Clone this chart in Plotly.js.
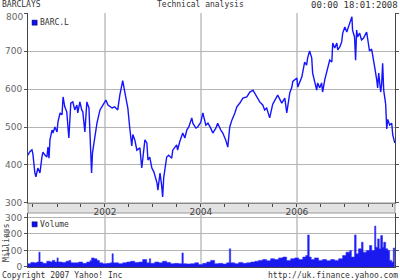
<!DOCTYPE html>
<html><head><meta charset="utf-8">
<script src="https://cdn.plot.ly/plotly-3.0.1.min.js"></script>
<style>html,body{margin:0;padding:0;background:#fff;}#c{width:400px;height:280px;}</style>
</head><body><div id="c"></div>
<script>
var priceDates = ["2000-05-24","2000-06-08","2000-06-24","2000-07-01","2000-07-16","2000-07-24","2000-08-08","2000-08-24","2000-09-08","2000-09-16","2000-10-01","2000-10-16","2000-10-24","2000-11-01","2000-11-08","2000-11-24","2000-12-01","2000-12-16","2001-01-01","2001-01-08","2001-01-24","2001-02-08","2001-02-16","2001-03-01","2001-03-16","2001-03-24","2001-04-01","2001-04-16","2001-05-01","2001-05-16","2001-06-01","2001-06-08","2001-06-24","2001-07-08","2001-07-16","2001-08-01","2001-08-16","2001-09-01","2001-09-14","2001-09-21","2001-09-28","2001-11-01","2001-11-24","2001-12-16","2002-01-08","2002-01-24","2002-02-24","2002-03-16","2002-04-08","2002-04-24","2002-05-16","2002-06-01","2002-06-24","2002-07-08","2002-07-24","2002-08-01","2002-08-16","2002-09-01","2002-09-24","2002-10-08","2002-10-16","2002-11-01","2002-11-16","2002-11-24","2002-12-08","2002-12-24","2003-01-08","2003-02-01","2003-02-08","2003-02-24","2003-03-08","2003-03-16","2003-03-24","2003-04-08","2003-04-16","2003-05-01","2003-05-24","2003-06-01","2003-07-01","2003-07-08","2003-07-24","2003-08-16","2003-09-01","2003-09-16","2003-10-01","2003-10-24","2003-11-01","2003-11-24","2003-12-08","2004-01-01","2004-01-16","2004-02-08","2004-02-24","2004-03-16","2004-04-01","2004-04-24","2004-05-08","2004-06-01","2004-06-16","2004-07-08","2004-07-24","2004-08-08","2004-08-24","2004-09-16","2004-10-01","2004-10-24","2004-11-16","2004-12-16","2005-01-08","2005-02-01","2005-03-01","2005-03-24","2005-04-16","2005-05-01","2005-05-16","2005-06-08","2005-07-01","2005-08-01","2005-08-08","2005-09-08","2005-10-01","2005-10-16","2005-11-08","2005-11-24","2005-12-01","2006-01-01","2006-01-08","2006-02-08","2006-02-16","2006-03-01","2006-03-16","2006-03-24","2006-04-08","2006-04-24","2006-05-01","2006-05-16","2006-06-01","2006-06-08","2006-06-24","2006-07-08","2006-07-16","2006-08-01","2006-08-16","2006-08-24","2006-09-08","2006-09-24","2006-10-01","2006-10-16","2006-11-01","2006-11-08","2006-11-24","2006-12-08","2006-12-16","2007-01-01","2007-01-16","2007-02-08","2007-02-24","2007-03-01","2007-03-16","2007-03-24","2007-04-01","2007-04-08","2007-04-24","2007-05-08","2007-05-24","2007-06-16","2007-06-24","2007-07-08","2007-07-24","2007-08-01","2007-08-16","2007-09-01","2007-09-08","2007-09-16","2007-10-01","2007-10-08","2007-10-16","2007-10-24","2007-11-01","2007-11-08","2007-11-16","2007-11-24","2007-12-08","2007-12-24","2008-01-01","2008-01-16"];
var priceValues = [426,435,440,430,380,369,392,379,421,434,426,421,447,418,466,492,484,500,487,513,537,532,579,553,540,500,471,563,566,545,558,537,566,545,540,487,566,550,447,379,432,510,545,558,571,558,550,553,545,584,622,592,550,500,450,480,466,439,445,392,421,466,458,413,421,392,382,353,334,379,347,316,366,395,421,426,418,439,453,439,461,484,471,492,500,524,510,497,500,513,537,505,510,497,484,497,510,492,484,466,447,500,518,537,553,563,576,579,592,597,579,566,558,545,550,524,560,580,584,563,576,537,590,605,620,629,605,632,650,671,663,682,700,682,642,616,597,616,603,616,592,624,642,658,676,671,721,708,721,703,711,724,747,763,750,774,790,755,737,676,755,737,747,729,734,750,729,700,705,684,658,624,603,642,592,611,668,597,575,560,495,520,505,510,479,458];

var volDates = ["2000-05-24","2000-06-15","2000-07-10","2000-08-01","2000-08-16","2000-08-25","2000-09-15","2000-10-15","2000-11-10","2000-11-25","2000-12-15","2001-01-01","2001-01-10","2001-02-10","2001-03-10","2001-04-01","2001-04-16","2001-05-15","2001-06-15","2001-07-15","2001-08-15","2001-09-10","2001-09-21","2001-10-10","2001-11-01","2001-11-20","2001-12-15","2002-01-15","2002-02-10","2002-02-24","2002-03-05","2002-04-15","2002-05-15","2002-06-15","2002-07-15","2002-08-15","2002-09-15","2002-10-15","2002-11-15","2002-12-05","2002-12-15","2003-01-15","2003-02-15","2003-03-15","2003-04-15","2003-05-15","2003-06-15","2003-07-15","2003-08-10","2003-08-20","2003-09-15","2003-10-15","2003-11-15","2003-12-15","2004-01-15","2004-02-15","2004-03-15","2004-04-15","2004-05-15","2004-06-15","2004-07-15","2004-08-05","2004-08-15","2004-09-15","2004-10-15","2004-11-15","2004-12-15","2005-01-15","2005-02-15","2005-03-15","2005-04-15","2005-05-15","2005-06-15","2005-07-15","2005-08-15","2005-09-15","2005-10-15","2005-11-15","2005-12-15","2006-01-15","2006-02-15","2006-03-10","2006-03-24","2006-04-05","2006-04-20","2006-05-15","2006-06-15","2006-07-15","2006-08-15","2006-09-15","2006-10-15","2006-11-15","2006-12-15","2007-01-10","2007-02-08","2007-02-20","2007-03-16","2007-03-28","2007-04-15","2007-05-08","2007-05-20","2007-06-15","2007-07-08","2007-07-25","2007-08-16","2007-08-25","2007-09-08","2007-09-20","2007-10-01","2007-10-15","2007-10-24","2007-11-08","2007-11-24","2007-12-08","2007-12-24","2008-01-05","2008-01-16"];
var volValues = [20,28,25,30,90,30,22,35,30,40,30,55,30,28,35,40,25,25,30,22,30,40,55,50,40,25,20,22,25,80,25,20,25,30,35,28,30,45,25,50,22,30,25,35,28,20,22,20,85,20,18,20,25,15,22,30,40,20,22,18,25,110,25,20,28,22,25,30,35,40,45,38,50,45,55,60,40,50,55,45,60,70,194,60,45,55,40,45,38,45,40,50,70,90,100,60,194,80,110,150,90,100,130,100,248,120,170,110,190,120,150,110,100,40,30,115,60];

var yearTickVals = ["2002-01-01","2004-01-01","2006-01-01"];
var yearTickText = ["2002","2004","2006"];
var priceTicks = [300,400,500,600,700,800];
var priceTickText = ["300","400","500","600","700",""];
var topPriceLabel = "800";
var volTicks = [0,100,200,300];

var xRange = ["2000-05-25","2008-01-18"];
var mono = "DejaVu Sans Mono";
var tickFont = {family:"DejaVu Sans", size:9, color:"#666"};

var traces = [
  {x:priceDates, y:priceValues, type:"scatter", mode:"lines", xaxis:"x", yaxis:"y",
   line:{color:"#1414ff", width:1.4}, showlegend:false, hoverinfo:"skip"},
  {x:volDates, y:volValues, type:"scatter", mode:"lines", xaxis:"x2", yaxis:"y2",
   fill:"tozeroy", fillcolor:"#1a1aee", line:{color:"#3030ff", width:0.6, shape:"hv"},
   showlegend:false, hoverinfo:"skip"}
];

var layout = {
  width:400, height:280,
  margin:{l:28, r:5, t:13, b:13, pad:0},
  paper_bgcolor:"#fff", plot_bgcolor:"#fff",
  showlegend:false,
  xaxis:{type:"date", range:xRange, domain:[0,1], anchor:"y",
    tickmode:"array", tickvals:yearTickVals, ticktext:yearTickText,
    ticks:"", showgrid:true, gridcolor:"#cfcfcf", gridwidth:2,
    tickfont:{family:"DejaVu Sans", size:9, color:"#444"},
    minor:{dtick:"M6", tick0:"2000-01-01", ticks:"outside", ticklen:3, tickcolor:"#444", showgrid:false},
    showline:true, linecolor:"#888", linewidth:1, zeroline:false, fixedrange:true},
  xaxis3:{type:"date", range:xRange, overlaying:"x", side:"top", anchor:"y",
    tickmode:"array", tickvals:yearTickVals, ticks:"", showticklabels:false, showgrid:false,
    minor:{dtick:"M6", tick0:"2000-01-01", ticks:"inside", ticklen:3, tickcolor:"#444", showgrid:false},
    showline:true, linecolor:"#888", linewidth:1, zeroline:false},
  yaxis:{domain:[0.252,1], range:[300,800], anchor:"x",
    tickmode:"array", tickvals:priceTicks, ticktext:priceTickText, ticks:"outside", ticklen:3, tickcolor:"#555",
    tickfont:tickFont, showgrid:true, gridcolor:"#b4b4b4", gridwidth:1,
    showline:true, linecolor:"#444", linewidth:1, mirror:"ticks", zeroline:false, fixedrange:true},
  xaxis2:{type:"date", range:xRange, domain:[0,1], anchor:"y2", matches:"x",
    tickmode:"array", tickvals:yearTickVals, ticks:"", showticklabels:false,
    showgrid:true, gridcolor:"#cfcfcf", gridwidth:2,
    showline:true, linecolor:"#444", linewidth:1, zeroline:false},
  yaxis2:{domain:[0,0.2126], range:[0,327], anchor:"x2",
    tickmode:"array", tickvals:volTicks, ticks:"outside", ticklen:3, tickcolor:"#555",
    tickfont:tickFont, showgrid:true, gridcolor:"#b4b4b4", gridwidth:1,
    showline:true, linecolor:"#444", linewidth:1, mirror:"ticks", zeroline:false},
  shapes:[
    {type:"rect", xref:"paper", yref:"paper", x0:0, x1:1, y0:0.2126, y1:0.252,
     fillcolor:"#e2e2e2", line:{color:"#999", width:1}, layer:"below"},
    {type:"rect", xref:"paper", yref:"paper", x0:0.011, x1:0.025, y0:0.972, y1:0.952,
     fillcolor:"#1010ee", line:{color:"#000066", width:0.5}},
    {type:"rect", xref:"paper", yref:"paper", x0:0.011, x1:0.025, y0:0.178, y1:0.158,
     fillcolor:"#1010ee", line:{color:"#000066", width:0.5}}
  ],
  annotations:[
    {text:"BARCLAYS", xref:"paper", yref:"paper", x:-0.0763, y:1.032, xanchor:"left", yanchor:"middle",
     showarrow:false, font:{family:mono, size:8, color:"#333"}},
    {text:"Technical analysis", xref:"paper", yref:"paper", x:0.4687, y:1.032, xanchor:"center", yanchor:"middle",
     showarrow:false, font:{family:mono, size:8, color:"#333"}},
    {text:"00:00 18:01:2008", xref:"paper", yref:"paper", x:1.0136, y:1.032, xanchor:"right", yanchor:"middle",
     showarrow:false, font:{family:mono, size:9, color:"#333"}},
    {text:topPriceLabel, xref:"paper", yref:"y", x:-0.009, y:800, yshift:-4, xanchor:"right", yanchor:"middle",
     showarrow:false, font:tickFont},
    {text:"Copyright 2007 Yahoo! Inc", xref:"paper", yref:"paper", x:-0.0763, y:-0.035, xanchor:"left", yanchor:"middle",
     showarrow:false, font:{family:mono, size:8, color:"#333"}},
    {text:"http://uk.finance.yahoo.com", xref:"paper", yref:"paper", x:1.0136, y:-0.035, xanchor:"right", yanchor:"middle",
     showarrow:false, font:{family:mono, size:8, color:"#333"}},
    {text:"BARC.L", xref:"paper", yref:"paper", x:0.028, y:0.962, xanchor:"left", yanchor:"middle",
     showarrow:false, font:{family:mono, size:8, color:"#333"}},
    {text:"Volume", xref:"paper", yref:"paper", x:0.028, y:0.168, xanchor:"left", yanchor:"middle",
     showarrow:false, font:{family:mono, size:8, color:"#333"}},
    {text:"Millions", xref:"paper", yref:"paper", x:-0.06, y:0.098, xanchor:"center", yanchor:"middle",
     textangle:-90, showarrow:false, font:{family:mono, size:8, color:"#444"}}
  ]
};

Plotly.newPlot("c", traces, layout, {staticPlot:true, displayModeBar:false});
</script></body></html>
